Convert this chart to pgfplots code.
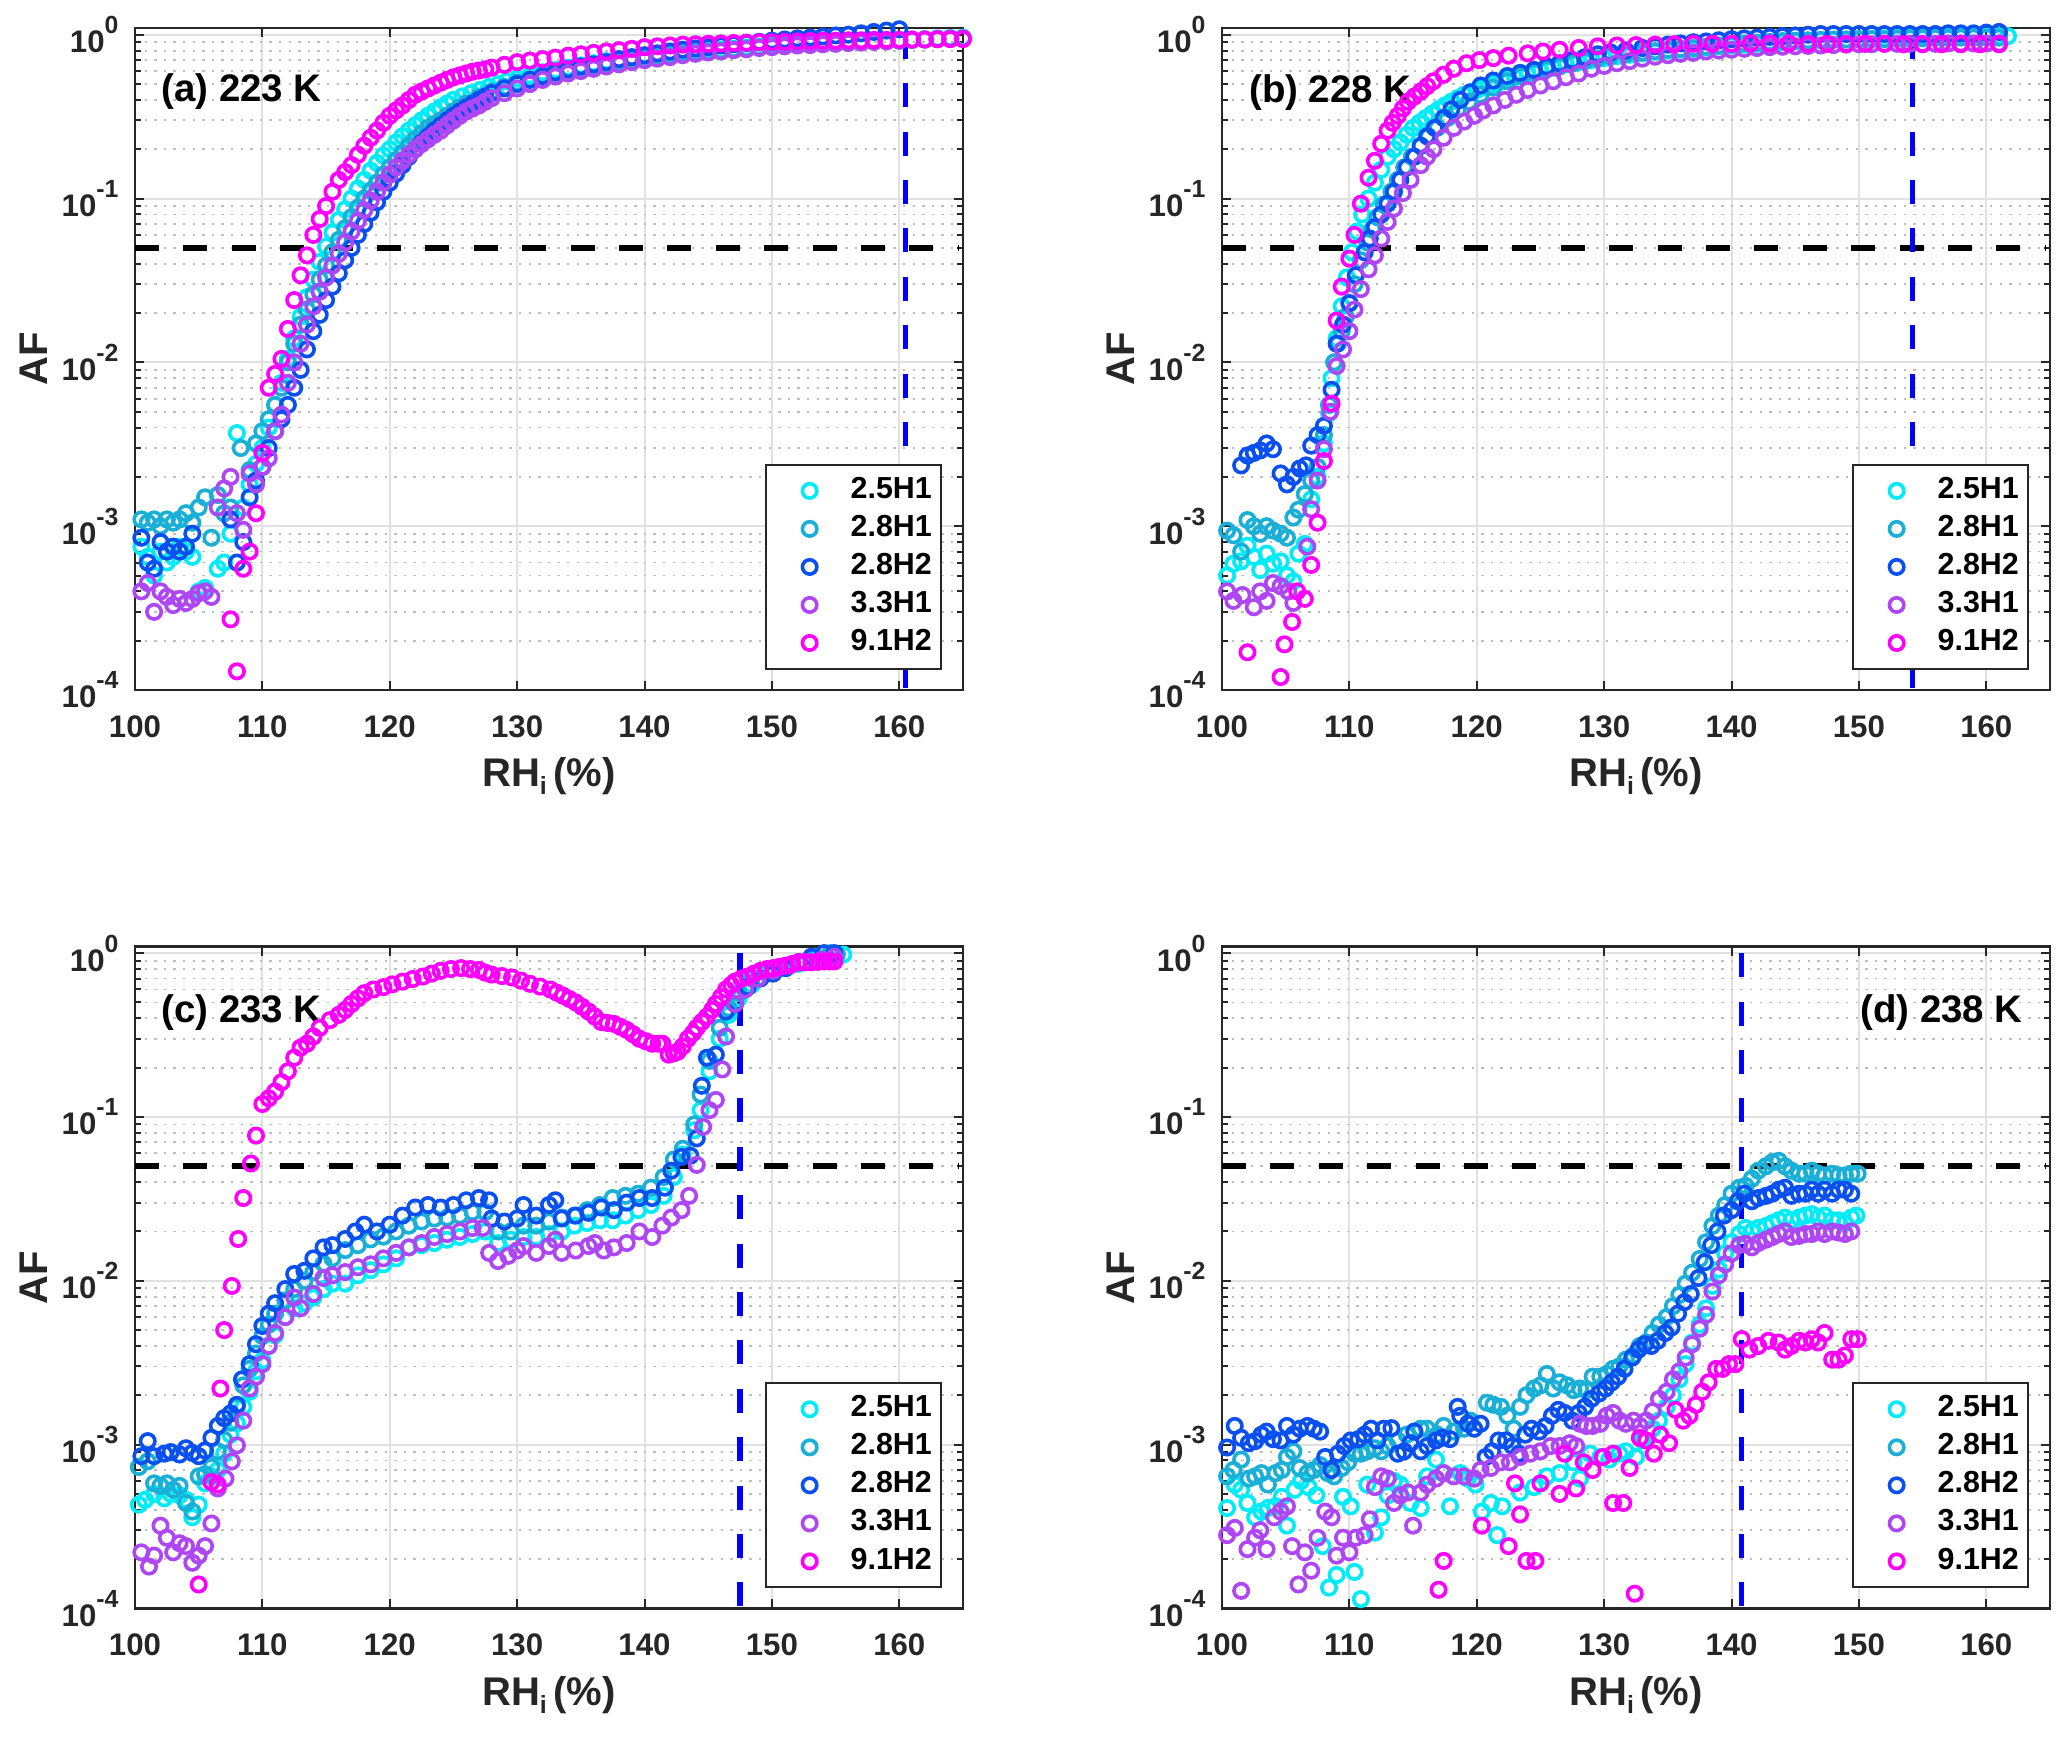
\documentclass[border=0pt]{standalone}
\usepackage{fontspec}
\setmainfont{Liberation Sans}
\usepackage{pgfplots}
\pgfplotsset{compat=1.18}
\definecolor{axgray}{RGB}{38,38,38}
\definecolor{gridgray}{RGB}{225,225,225}
\definecolor{mgridgray}{RGB}{190,190,190}
\definecolor{c1}{RGB}{0,236,248}
\definecolor{c2}{RGB}{25,175,215}
\definecolor{c3}{RGB}{10,80,240}
\definecolor{c4}{RGB}{175,70,245}
\definecolor{c5}{RGB}{255,0,255}
\definecolor{vblue}{RGB}{0,0,255}
\newcommand{\tp}[1]{10\raisebox{4.7pt}{\fontsize{6.2}{6.2}\selectfont #1}}
\pgfplotsset{
  panel/.style={
    scale only axis, width=207pt, height=165.5pt,
    xmin=100, xmax=165, ymin=1e-4, ymax=1.1,
    xtick={100,110,120,130,140,150,160},
    xticklabels={100,110,120,130,140,150,160},
    minor xtick={},
    ytick={1e-4,1e-3,1e-2,1e-1,1},
    yticklabels={\tp{-4},\tp{-3},\tp{-2},\tp{-1},\tp{0}},
    minor ytick={2e-4,3e-4,4e-4,5e-4,6e-4,7e-4,8e-4,9e-4,2e-3,3e-3,4e-3,5e-3,6e-3,7e-3,8e-3,9e-3,2e-2,3e-2,4e-2,5e-2,6e-2,7e-2,8e-2,9e-2,0.2,0.3,0.4,0.5,0.6,0.7,0.8,0.9},
    tick align=inside, tick pos=both,
    major tick length=2.3pt, minor tick length=1.4pt,
    every tick/.style={axgray, line width=0.5pt},
    axis line style={axgray, line width=0.6pt},
    xmajorgrids, ymajorgrids, yminorgrids,
    major grid style={color=gridgray, line width=0.5pt},
    minor grid style={color=mgridgray, dash pattern=on 0.6pt off 1.8pt, line width=0.45pt},
    tick label style={font=\fontsize{7.8}{9}\selectfont\bfseries, color=axgray},
    xticklabel shift=2.8pt, yticklabel shift=0.6pt,
    xlabel={RH\raisebox{-2pt}{\fontsize{6.2}{6.2}\selectfont i}\,(\%)}, ylabel={AF},
    label style={font=\fontsize{10}{11}\selectfont\bfseries, color=axgray},
    xlabel style={at={(axis description cs:0.5,-0.1465)}, anchor=base},
    ylabel style={at={(axis description cs:-0.122,0.5)}, anchor=center},
    legend style={font=\fontsize{7.6}{9}\selectfont\bfseries, text=black, draw=axgray, line width=0.5pt, fill=white, at={(1,0)}, anchor=south east, xshift=-5.25pt, yshift=5pt, inner xsep=0.3pt, inner ysep=1.2pt, row sep=-1.1pt, cells={anchor=west}, nodes={inner ysep=1.9pt}},
  },
  ser/.style={only marks, mark=o, mark size=1.8pt, line width=0.9pt, color=#1,
    legend image code/.code={\path[draw=none,fill=none] (0pt,0pt) -- (18.75pt,0pt); \draw[mark repeat=2,mark phase=2,##1] plot coordinates {(0pt,0pt)(10.5pt,0pt)(18.75pt,0pt)};}},
  hline/.style={forget plot, black, line width=1.5pt, dash pattern=on 6pt off 6.1pt},
  vline/.style={forget plot, vblue, line width=1.3pt, dash pattern=on 6pt off 6.1pt},
}
\tikzset{plab/.style={font=\fontsize{9.6}{11}\selectfont\bfseries, text=black, inner sep=0pt}}
\begin{document}
\begin{tikzpicture}
\path[use as bounding box] (0pt,0pt) rectangle (516.75pt,-435.25pt);
% ================= (a) 223 K =================
\begin{semilogyaxis}[panel, at={(33.75pt,-172.5pt)}, anchor=south west]
\addplot[ser=c1] table {
x y
100.5 7.5e-4
101 6.5e-4
101.5 5e-4
102 7e-4
102.5 6e-4
103 6.5e-4
103.5 7.5e-4
104 7e-4
104.5 6.5e-4
105 4e-4
105.5 4.2e-4
106.5 5.5e-4
107 6e-4
107.5 9e-4
108 3.7e-3
108.5 1.3e-3
109 1.8e-3
109.5 2.4e-3
110 3e-3
110.5 4e-3
111 5.5e-3
111.5 7.5e-3
112 1.05e-2
112.5 1.4e-2
113 1.9e-2
113.5 2.5e-2
114 3.2e-2
114.5 4.1e-2
115 5.1e-2
115.5 6.2e-2
116 7.4e-2
116.5 8.6e-2
117 0.1
117.5 0.115
118 0.13
118.5 0.148
119 0.165
119.5 0.183
120 0.2
120.5 0.22
121 0.24
121.5 0.26
122 0.28
122.5 0.3
123 0.32
123.5 0.34
124 0.36
124.5 0.38
125 0.4
125.7 0.42
126.4 0.44
127.1 0.46
127.8 0.48
128.5 0.5
129.2 0.52
130 0.54
131 0.565
132 0.59
133 0.61
134 0.63
135 0.65
136 0.67
137 0.69
138 0.7
139 0.72
140 0.73
141 0.745
142 0.76
143 0.775
144 0.79
145 0.8
146 0.81
147 0.82
148 0.835
149 0.845
150 0.86
151 0.865
152 0.87
153 0.88
154 0.89
155 0.9
156 0.905
157 0.91
158 0.915
159 0.925
160 0.93
161 0.935
162 0.94
163 0.95
164 0.955
165 0.96
};
\addplot[ser=c2] table {
x y
100.5 1.1e-3
101 1.05e-3
101.5 1.1e-3
102 1e-3
102.5 1.1e-3
103 1.05e-3
103.5 1.1e-3
104 1.2e-3
104.5 1.05e-3
105 1.3e-3
105.5 1.5e-3
106 8.5e-4
106.5 1.55e-3
107 1.2e-3
107.5 1.3e-3
108.3 3e-3
109 2.2e-3
109.5 3.2e-3
110 3.8e-3
110.5 4.5e-3
111 5.5e-3
111.5 7e-3
112 1e-2
112.5 1.3e-2
113 1.7e-2
113.5 2.1e-2
114 2.6e-2
114.5 3.2e-2
115 3.9e-2
115.5 4.7e-2
116 5.6e-2
116.5 6.6e-2
117 7.7e-2
117.5 8.8e-2
118 0.1
118.5 0.112
119 0.125
119.5 0.14
120 0.155
120.5 0.172
121 0.19
121.5 0.21
122 0.23
122.5 0.25
123 0.27
123.5 0.285
124 0.3
124.5 0.32
125 0.34
125.5 0.36
126 0.38
127 0.415
128 0.45
129 0.48
130 0.51
131 0.535
132 0.56
133 0.585
134 0.61
135 0.63
136 0.65
137 0.67
138 0.69
139 0.705
140 0.72
141 0.735
142 0.75
143 0.765
144 0.78
145 0.79
146 0.8
147 0.815
148 0.825
149 0.84
150 0.85
151 0.86
152 0.87
153 0.875
154 0.885
155 0.89
156 0.9
157 0.905
158 0.91
159 0.915
160 0.92
161 0.93
162 0.935
163 0.94
164 0.95
};
\addplot[ser=c3] table {
x y
100.5 8.5e-4
101 6e-4
101.5 5.5e-4
102 8e-4
102.5 7e-4
103 7.5e-4
103.5 7e-4
104 7.5e-4
104.5 9e-4
107.5 1.1e-3
108 6e-4
108.5 8e-4
109 1.5e-3
109.5 1.9e-3
110 2.3e-3
110.5 3e-3
111 3.8e-3
111.5 4.5e-3
112 5.5e-3
112.5 7e-3
113 9e-3
113.5 1.2e-2
114 1.55e-2
114.5 1.95e-2
115 2.4e-2
115.5 2.9e-2
116 3.5e-2
116.5 4.2e-2
117 5e-2
117.5 6e-2
118 7e-2
118.5 8.2e-2
119 9.5e-2
119.5 0.11
120 0.125
120.5 0.142
121 0.16
121.5 0.18
122 0.2
122.5 0.22
123 0.24
123.5 0.26
124 0.28
124.5 0.3
125 0.32
125.5 0.34
126 0.36
126.5 0.38
127 0.4
127.5 0.42
128 0.44
129 0.47
130 0.5
131 0.53
132 0.56
133 0.59
134 0.615
135 0.64
136 0.66
137 0.68
138 0.71
139 0.73
140 0.75
141 0.77
142 0.79
143 0.81
144 0.825
145 0.84
146 0.86
147 0.875
148 0.89
149 0.905
150 0.92
151 0.935
152 0.95
153 0.96
154 0.975
155 0.99
156 1.0
157 1.02
158 1.04
159 1.06
160 1.08
};
\addplot[ser=c4] table {
x y
100.5 4e-4
101 4.5e-4
101.5 3e-4
102 4e-4
102.5 3.7e-4
103 3.3e-4
103.5 3.6e-4
104 3.4e-4
104.5 3.6e-4
105 3.9e-4
105.5 4e-4
106 3.7e-4
106.5 1.3e-3
107 1.7e-3
107.5 2e-3
108 1.2e-3
108.5 9.5e-4
109 2.1e-3
109.5 1.8e-3
110 2.3e-3
110.5 2.6e-3
111 3.8e-3
111.5 4.8e-3
112 7.5e-3
112.5 1e-2
113 1.3e-2
113.5 1.7e-2
114 2.2e-2
114.5 2.7e-2
115 3.3e-2
115.5 3.9e-2
116 4.6e-2
116.5 5.4e-2
117 6.3e-2
117.5 7.3e-2
118 8.5e-2
118.5 9.7e-2
119 0.11
119.5 0.125
120 0.14
120.5 0.155
121 0.17
121.5 0.185
122 0.2
122.5 0.215
123 0.23
123.5 0.245
124 0.26
124.5 0.28
125 0.3
125.5 0.32
126 0.34
126.5 0.355
127 0.37
127.5 0.39
128 0.41
129 0.44
130 0.47
131 0.5
132 0.53
133 0.555
134 0.58
135 0.6
136 0.62
137 0.64
138 0.66
139 0.68
140 0.7
141 0.715
142 0.73
143 0.75
144 0.765
145 0.78
146 0.79
147 0.805
148 0.815
149 0.83
150 0.84
151 0.85
152 0.86
153 0.865
154 0.875
155 0.88
156 0.89
157 0.895
158 0.905
159 0.91
160 0.92
161 0.93
162 0.935
163 0.94
164 0.945
165 0.95
};
\addplot[ser=c5] table {
x y
107.5 2.7e-4
108 1.3e-4
108.5 5.5e-4
109 7e-4
109.5 1.2e-3
110 2.8e-3
110.5 7e-3
111 8.5e-3
111.5 1.05e-2
112 1.6e-2
112.5 2.4e-2
113 3.4e-2
113.5 4.5e-2
114 6e-2
114.5 7.5e-2
115 9e-2
115.5 0.11
116 0.13
116.5 0.145
117 0.16
117.5 0.185
118 0.21
118.5 0.235
119 0.26
119.5 0.29
120 0.32
120.5 0.345
121 0.37
121.5 0.4
122 0.43
122.5 0.45
123 0.47
123.5 0.49
124 0.51
124.5 0.53
125 0.55
125.5 0.565
126 0.58
126.5 0.595
127 0.605
127.5 0.615
128 0.63
129 0.655
130 0.68
131 0.695
132 0.71
133 0.725
134 0.745
135 0.76
136 0.775
137 0.79
138 0.805
139 0.82
140 0.84
141 0.85
142 0.86
143 0.87
144 0.875
145 0.88
146 0.885
147 0.89
148 0.895
149 0.9
150 0.9
151 0.905
152 0.91
153 0.915
154 0.92
155 0.92
156 0.925
157 0.925
158 0.93
159 0.93
160 0.93
161 0.935
162 0.935
163 0.94
164 0.94
165 0.94
};
\addplot[hline] coordinates {(100,0.05) (164.6,0.05)};
\addplot[vline] coordinates {(160.5,1) (160.5,1e-4)};
\legend{2.5H1,2.8H1,2.8H2,3.3H1,9.1H2}
\node[plab, anchor=base west] at (axis description cs:0.031,0.889) {(a) 223 K};
\end{semilogyaxis}
% ================= (b) 228 K =================
\begin{semilogyaxis}[panel, at={(305.5pt,-172.5pt)}, anchor=south west]
\addplot[ser=c1] table {
x y
100.4 5e-4
100.9 5.9e-4
101.5 6.1e-4
102 7.6e-4
102.5 6.5e-4
103 5.4e-4
103.5 6.8e-4
104 5.9e-4
104.6 6.1e-4
105.1 5e-4
105.6 4.6e-4
106 6.8e-4
106.5 7.8e-4
107 1.46e-3
107.5 2e-3
108 3.2e-3
108.4 4.9e-3
108.6 8e-3
109 1.4e-2
109.4 2.2e-2
109.8 3.3e-2
110.2 4.7e-2
110.6 6.3e-2
111 8e-2
111.5 0.1
112 0.125
112.5 0.15
113 0.18
113.5 0.2
114 0.22
114.5 0.245
115 0.27
115.5 0.29
116 0.31
116.5 0.33
117 0.35
117.5 0.37
118 0.39
118.5 0.41
119 0.43
119.5 0.445
120 0.46
120.5 0.475
121 0.49
121.5 0.505
122 0.52
122.5 0.535
123 0.55
123.5 0.56
124 0.575
125 0.6
126 0.63
127 0.66
128 0.68
129 0.7
130 0.72
131 0.74
132 0.755
133 0.77
134 0.785
135 0.8
136 0.81
137 0.82
138 0.835
139 0.85
140 0.86
141 0.87
142 0.88
143 0.89
144 0.9
145 0.91
146 0.915
147 0.925
148 0.93
149 0.935
150 0.94
151 0.945
152 0.95
153 0.955
154 0.96
155 0.96
156 0.965
157 0.97
158 0.97
159 0.975
160 0.975
161 0.98
161.7 0.98
};
\addplot[ser=c2] table {
x y
100.4 9.4e-4
100.9 8.8e-4
101.5 7e-4
102 1.09e-3
102.5 1e-3
103 9e-4
103.5 1e-3
104 9.4e-4
104.6 9e-4
105.1 8.5e-4
105.6 1.13e-3
106 1.26e-3
106.5 1.57e-3
107 1.9e-3
107.5 2.3e-3
108 3.6e-3
108.4 5.5e-3
108.8 1e-2
109.1 1.3e-2
109.4 1.55e-2
109.7 1.9e-2
110 2.3e-2
110.4 3e-2
110.9 4.2e-2
111.4 5.4e-2
111.8 6.5e-2
112.2 7.7e-2
112.7 9.2e-2
113.3 0.11
113.8 0.13
114.3 0.155
114.9 0.18
115.6 0.21
116.2 0.24
116.9 0.27
117.7 0.31
118.5 0.35
119.4 0.39
120.3 0.43
121.3 0.475
122.4 0.52
123.5 0.56
124.5 0.59
125.5 0.615
126.5 0.64
127.6 0.67
128.5 0.69
129.5 0.715
130.5 0.74
131.7 0.76
133 0.78
134 0.795
135 0.81
136 0.82
137 0.83
138 0.845
139 0.86
140 0.87
141 0.885
142 0.895
143 0.905
144 0.915
145 0.92
146 0.925
147 0.93
148 0.935
149 0.935
150 0.94
151 0.94
152 0.94
153 0.945
154 0.95
155 0.95
156 0.955
157 0.955
158 0.96
159 0.96
160 0.96
161 0.96
};
\addplot[ser=c3] table {
x y
101.5 2.35e-3
102 2.7e-3
102.5 2.8e-3
103 2.9e-3
103.5 3.2e-3
104 2.95e-3
104.6 2.1e-3
105.1 1.8e-3
105.6 2e-3
106.1 2.25e-3
106.6 2.35e-3
107 3.1e-3
107.5 3.6e-3
108 4.1e-3
108.6 6.8e-3
109 1.3e-2
109.5 1.7e-2
110 2.3e-2
110.5 3.4e-2
111.2 4.7e-2
111.6 5.7e-2
112 6.7e-2
112.5 8e-2
113 9.3e-2
113.5 0.11
114 0.13
114.5 0.155
115.1 0.18
115.6 0.21
116.1 0.24
116.7 0.27
117.4 0.31
118 0.35
118.7 0.4
119.5 0.445
120.3 0.49
121.3 0.525
122.4 0.56
123.4 0.585
124.5 0.61
125.5 0.64
126.5 0.67
127.5 0.7
128.5 0.73
129.5 0.76
130.5 0.78
131.7 0.8
133 0.83
134 0.85
135 0.87
136 0.885
137 0.9
138 0.91
139 0.925
140 0.94
141 0.95
142 0.96
143 0.97
144 0.98
145 0.99
146 1.0
147 1.01
148 1.01
149 1.01
150 1.01
151 1.01
152 1.01
153 1.01
154 1.01
155 1.01
156 1.01
157 1.02
158 1.02
159 1.02
160 1.03
161 1.04
};
\addplot[ser=c4] table {
x y
100.4 4e-4
100.9 3.5e-4
101.6 3.8e-4
102.5 3.2e-4
103 4e-4
103.5 3.5e-4
104 4.5e-4
104.6 4.3e-4
105.2 4e-4
105.6 3.4e-4
106.7 7.5e-4
107 1.27e-3
107.5 1.9e-3
108 2.95e-3
108.5 5e-3
109 9.5e-3
109.5 1.2e-2
110 1.55e-2
110.4 2.1e-2
110.9 2.8e-2
111.5 3.7e-2
112 4.5e-2
112.5 5.7e-2
113 7.2e-2
113.5 8.7e-2
114.2 0.108
114.8 0.13
115.6 0.16
116.1 0.18
116.6 0.2
117.4 0.235
118.2 0.27
119 0.295
119.8 0.32
120.5 0.345
121.3 0.37
122.2 0.4
123.1 0.43
124 0.46
125 0.49
126 0.52
127 0.55
128 0.58
129 0.62
130 0.645
131 0.67
132 0.69
133 0.715
134 0.735
135 0.75
136 0.765
137 0.775
138 0.79
139 0.8
140 0.81
141 0.82
142 0.83
143 0.84
144 0.845
145 0.85
146 0.855
147 0.86
148 0.865
149 0.87
150 0.875
151 0.875
152 0.88
153 0.88
154 0.88
155 0.88
156 0.88
157 0.885
158 0.885
159 0.885
160 0.885
161 0.885
};
\addplot[ser=c5] table {
x y
102 1.7e-4
104.6 1.2e-4
104.9 1.9e-4
105.5 2.6e-4
105.9 4e-4
106.5 3.6e-4
107 5.8e-4
107.5 1.05e-3
108 2.5e-3
108.6 5.6e-3
109 1.8e-2
109.4 2.9e-2
110 4.3e-2
110.4 6e-2
110.9 9.3e-2
111.5 0.134
112 0.17
112.5 0.216
113 0.26
113.4 0.29
113.8 0.32
114.2 0.355
114.6 0.39
115.1 0.42
115.6 0.45
116.1 0.485
116.6 0.52
117.4 0.57
118.2 0.62
119.2 0.67
120.2 0.7
121.3 0.72
122.5 0.745
124 0.77
125.2 0.79
126.5 0.81
128 0.83
129.5 0.85
131 0.86
132.5 0.865
134 0.87
135.5 0.875
137 0.88
138.5 0.88
140 0.88
141.5 0.885
143 0.885
144.5 0.885
146 0.88
147.5 0.88
149 0.88
150.5 0.88
152 0.88
153.5 0.875
155 0.875
156.5 0.875
158 0.875
159.5 0.875
161 0.875
};
\addplot[hline] coordinates {(100,0.05) (164.6,0.05)};
\addplot[vline] coordinates {(154.2,1) (154.2,1e-4)};
\legend{2.5H1,2.8H1,2.8H2,3.3H1,9.1H2}
\node[plab, anchor=base west] at (axis description cs:0.032,0.888) {(b) 228 K};
\end{semilogyaxis}
% ================= (c) 233 K =================
\begin{semilogyaxis}[panel, at={(33.75pt,-402.1pt)}, anchor=south west]
\addplot[ser=c1] table {
x y
100.3 4.3e-4
100.8 4.6e-4
101.5 5e-4
102.3 4.7e-4
102.8 5e-4
103.5 4.9e-4
104 4.6e-4
104.5 3.6e-4
105 4.3e-4
105.5 5.8e-4
106 6.4e-4
106.5 7e-4
107 8.8e-4
107.5 1.15e-3
108 1.35e-3
108.5 1.7e-3
109 2.1e-3
109.5 2.8e-3
110 3.25e-3
110.5 4e-3
111 4.65e-3
111.8 6e-3
112.5 6.8e-3
113.3 7.3e-3
114 7.9e-3
114.8 8.9e-3
115.5 9.6e-3
116.5 9.6e-3
117.5 1.08e-2
118.5 1.16e-2
119.5 1.26e-2
120.5 1.37e-2
121.5 1.6e-2
122.5 1.65e-2
123.5 1.7e-2
124.5 1.78e-2
125.5 1.85e-2
126.5 1.93e-2
127.5 2e-2
128.5 1.7e-2
129.5 1.78e-2
130.5 1.85e-2
131.5 1.85e-2
132.5 1.93e-2
133.5 2e-2
134.5 2.17e-2
135.5 2.25e-2
136.5 2.34e-2
137.5 2.34e-2
138.5 2.5e-2
139.5 2.7e-2
140.5 2.9e-2
141.5 3.3e-2
142.3 4.3e-2
143 5.9e-2
143.9 8.3e-2
144.4 0.11
145.1 0.19
145.9 0.3
146.6 0.42
147.4 0.53
148.4 0.64
149.6 0.75
150.9 0.81
152.1 0.86
153.4 0.91
154.6 0.98
155.6 0.98
};
\addplot[ser=c2] table {
x y
100.3 7.3e-4
101 7.9e-4
101.5 5.8e-4
102 5.6e-4
102.5 5.8e-4
103 5.3e-4
103.5 5.6e-4
104 4.4e-4
104.5 3.9e-4
105 6.4e-4
105.5 6.6e-4
106 7.3e-4
106.5 9.1e-4
107 1.07e-3
107.5 1.36e-3
108 1.7e-3
108.5 2.3e-3
109 2.9e-3
109.5 3.6e-3
110 4.6e-3
110.5 5.4e-3
111 6.3e-3
111.8 7.6e-3
112.5 8.9e-3
113.3 1e-2
114 1.13e-2
114.8 1.27e-2
115.5 1.37e-2
116.5 1.54e-2
117.5 1.65e-2
118.5 1.79e-2
119.5 1.86e-2
120.5 2e-2
121.5 2.17e-2
122.5 2.3e-2
123.5 2.4e-2
124.5 2.43e-2
125.5 2.5e-2
126.5 2.63e-2
127.5 2.63e-2
128.5 2e-2
129.5 2e-2
130.5 2.17e-2
131.5 2.17e-2
132.5 2.3e-2
133.5 2.43e-2
134.5 2.5e-2
135.5 2.7e-2
136.5 2.9e-2
137.5 3.2e-2
138.5 3.3e-2
139.5 3.4e-2
140.5 3.7e-2
141.5 4.3e-2
142.3 5.5e-2
143 6.4e-2
143.9 9e-2
144.4 0.137
145.1 0.22
145.9 0.35
146.6 0.46
147.4 0.57
148.4 0.7
149.6 0.78
150.9 0.82
152.1 0.88
153.4 0.95
154.6 1.0
155.1 0.98
};
\addplot[ser=c3] table {
x y
100.5 8.5e-4
101 1.05e-3
101.5 8.5e-4
102.3 8.8e-4
102.8 9e-4
103.5 8.7e-4
104 9.5e-4
104.5 8.9e-4
105 8.5e-4
105.5 9.2e-4
106 1.1e-3
106.5 1.3e-3
107 1.45e-3
107.5 1.55e-3
108 1.75e-3
108.4 2.5e-3
109 3.1e-3
109.5 4.1e-3
110 5.3e-3
110.5 6.3e-3
111 7.3e-3
111.8 8.9e-3
112.5 1.1e-2
113.3 1.15e-2
114 1.37e-2
114.8 1.6e-2
115.5 1.65e-2
116.5 1.8e-2
117.3 2e-2
118 2.2e-2
119 2e-2
120 2.2e-2
121 2.5e-2
122 2.8e-2
123 2.9e-2
124 2.8e-2
125 2.9e-2
126 3.1e-2
127 3.2e-2
127.8 3.1e-2
128 2.4e-2
129 2.3e-2
130 2.4e-2
130.5 2.9e-2
131.5 2.5e-2
132.5 2.9e-2
133 3.1e-2
133.5 2.4e-2
134.6 2.5e-2
135.6 2.6e-2
136.6 2.8e-2
137.6 2.7e-2
138.6 3e-2
139.6 3.2e-2
140.6 3.2e-2
141.6 3.7e-2
142.1 4.7e-2
142.9 5.7e-2
143.6 5.8e-2
144.1 7.4e-2
144.5 0.155
144.9 0.23
145.6 0.24
146.4 0.44
147.1 0.49
148.1 0.62
149.1 0.7
150.1 0.75
151.1 0.81
152.1 0.88
153.1 0.95
154.1 1.0
154.9 1.0
};
\addplot[ser=c4] table {
x y
100.5 2.2e-4
101.1 1.8e-4
101.5 2.1e-4
102 3.2e-4
102.5 2.7e-4
103 2.2e-4
103.5 2.5e-4
104 2.4e-4
104.5 1.9e-4
105 2.1e-4
105.5 2.4e-4
106 3.3e-4
106.5 5.4e-4
107.1 6.2e-4
107.6 7.9e-4
108 9.9e-4
108.5 1.4e-3
109 2.2e-3
109.5 2.6e-3
110 3.1e-3
110.5 4e-3
111 4.8e-3
111.8 6e-3
112.5 7.9e-3
113 6.8e-3
114 8.3e-3
114.8 1.04e-2
115.5 1.08e-2
116.5 1.13e-2
117.5 1.21e-2
118.5 1.26e-2
119.5 1.37e-2
120.5 1.48e-2
121.5 1.6e-2
122.5 1.7e-2
123.5 1.85e-2
124.5 1.93e-2
125.5 2e-2
126.5 2.1e-2
127.3 2.1e-2
127.8 1.48e-2
128.5 1.32e-2
129.3 1.42e-2
130 1.53e-2
130.5 1.63e-2
131.5 1.48e-2
132.5 1.63e-2
133 1.78e-2
133.5 1.48e-2
134.6 1.53e-2
135.6 1.63e-2
136.1 1.7e-2
136.8 1.53e-2
137.6 1.6e-2
138.6 1.7e-2
139.6 2e-2
140.6 1.85e-2
141.4 2.17e-2
142.1 2.43e-2
142.9 2.7e-2
143.5 3.3e-2
144.1 5.1e-2
144.6 8.7e-2
145.1 0.11
145.6 0.127
146.1 0.195
146.4 0.31
147.1 0.49
147.9 0.6
148.9 0.7
150.1 0.78
151.4 0.84
152.6 0.88
153.9 0.91
154.9 0.95
};
\addplot[ser=c5] table {
x y
105 1.4e-4
106 5.9e-4
106.5 5.7e-4
106.7 2.2e-3
107 5e-3
107.6 9.3e-3
108.1 1.8e-2
108.5 3.2e-2
109.1 5.2e-2
109.5 7.7e-2
110 0.12
110.5 0.13
111 0.143
111.5 0.163
112 0.19
112.5 0.23
113 0.265
113.5 0.28
114 0.31
114.5 0.35
115.3 0.39
116 0.42
116.5 0.45
117 0.49
117.5 0.53
118 0.57
118.7 0.6
119.5 0.62
120.2 0.645
121 0.67
121.8 0.695
122.6 0.72
123.3 0.75
124 0.78
124.8 0.8
125.6 0.81
126.3 0.8
127 0.79
127.5 0.76
128 0.74
128.8 0.725
129.6 0.71
130.3 0.68
131 0.65
131.8 0.625
132.6 0.6
133.1 0.575
133.6 0.55
134.1 0.525
134.6 0.5
135.1 0.47
135.6 0.44
136.1 0.41
136.6 0.38
137.1 0.375
137.6 0.37
138.1 0.355
138.6 0.34
139.1 0.32
139.6 0.3
140.1 0.29
140.6 0.28
141.1 0.28
141.4 0.28
141.9 0.24
142.3 0.245
142.6 0.25
143 0.27
143.4 0.3
143.8 0.325
144.1 0.35
144.5 0.38
144.9 0.41
145.3 0.45
145.6 0.49
146 0.54
146.4 0.6
146.8 0.64
147.1 0.67
147.6 0.7
148.1 0.72
148.6 0.75
149.1 0.78
149.6 0.8
150.1 0.81
150.6 0.825
151.1 0.84
151.6 0.86
152.1 0.88
152.6 0.88
153.1 0.88
153.6 0.885
154.1 0.89
154.5 0.89
154.9 0.89
};
\addplot[hline] coordinates {(100,0.05) (164.6,0.05)};
\addplot[vline] coordinates {(147.5,1) (147.5,1e-4)};
\legend{2.5H1,2.8H1,2.8H2,3.3H1,9.1H2}
\node[plab, anchor=base west] at (axis description cs:0.031,0.885) {(c) 233 K};
\end{semilogyaxis}
% ================= (d) 238 K =================
\begin{semilogyaxis}[panel, at={(305.5pt,-402.1pt)}, anchor=south west]
\addplot[ser=c1] table {
x y
100.4 4.1e-4
101 5.7e-4
101.5 5.3e-4
102 4.4e-4
102.6 3.6e-4
103.1 3.9e-4
103.6 4.1e-4
104.2 4.2e-4
104.7 4.8e-4
105.1 3.2e-4
105.7 5.3e-4
106.2 6e-4
106.8 5.5e-4
107.4 4.9e-4
107.9 2.4e-4
108.4 1.34e-4
109 1.6e-4
109.5 4.8e-4
110.1 4.2e-4
110.4 1.67e-4
110.9 1.14e-4
111.4 5.7e-4
112 2.9e-4
112.5 3.6e-4
113 4.9e-4
113.5 6e-4
114 5.7e-4
114.8 4.4e-4
115.6 4.1e-4
116.1 6.4e-4
116.8 8.1e-4
117.3 6.7e-4
117.9 4.2e-4
118.7 6.7e-4
119.3 6.2e-4
119.9 5.7e-4
120.4 3.9e-4
121.1 4.4e-4
121.6 2.8e-4
122 4.2e-4
123.4 5.1e-4
124.5 5.5e-4
125.5 6.4e-4
126.5 6.7e-4
127.6 7.8e-4
128.1 6.2e-4
128.9 8.8e-4
129.7 8.4e-4
130.4 8.1e-4
131.2 8.8e-4
131.7 9.1e-4
132.5 8.4e-4
133 1.06e-3
133.8 1.25e-3
134.3 1.4e-3
134.9 1.7e-3
135.4 2e-3
135.9 2.5e-3
136.4 3.1e-3
136.9 4.2e-3
137.5 5.4e-3
138 6.8e-3
138.5 9.3e-3
139 1.17e-2
139.5 1.47e-2
140 1.72e-2
140.6 1.93e-2
141.1 2.1e-2
141.6 2e-2
142.1 2.1e-2
142.7 2.16e-2
143.2 2.25e-2
143.7 2.34e-2
144.2 2.43e-2
144.7 2.34e-2
145.3 2.43e-2
145.8 2.5e-2
146.3 2.55e-2
146.8 2.43e-2
147.3 2.5e-2
147.9 2.34e-2
148.4 2.34e-2
148.9 2.25e-2
149.4 2.43e-2
149.8 2.5e-2
};
\addplot[ser=c2] table {
x y
100.4 6.4e-4
100.9 7e-4
101.5 8.1e-4
102.1 6.2e-4
102.6 6.4e-4
103.1 6.7e-4
103.6 5.7e-4
104.2 6.7e-4
104.7 7e-4
105.1 8.4e-4
105.6 9.1e-4
106.1 7.2e-4
106.7 6.7e-4
107.2 7e-4
107.7 7.5e-4
108.3 6.7e-4
108.8 6.4e-4
109.4 7.2e-4
109.9 7.8e-4
110.4 8.8e-4
110.9 8.8e-4
111.4 9.1e-4
112 9.5e-4
112.5 9.1e-4
113 9.8e-4
113.8 1.06e-3
114.5 1.15e-3
115.1 1.2e-3
115.6 1.25e-3
116.1 1.25e-3
116.9 1.15e-3
117.4 1.3e-3
118.2 1.2e-3
119 1.25e-3
119.5 1.4e-3
120.8 1.8e-3
121.3 1.75e-3
121.9 1.7e-3
122.4 1.5e-3
122.9 1.25e-3
123.4 1.7e-3
123.9 2e-3
124.5 2.2e-3
125 2.3e-3
125.5 2.7e-3
126 2.2e-3
126.5 2.4e-3
127.1 2.3e-3
127.6 2.15e-3
128.1 2.2e-3
128.6 2.15e-3
129.1 2.6e-3
129.7 2.6e-3
130.2 2.7e-3
130.7 2.9e-3
131.2 3e-3
131.7 3.3e-3
132.3 3.5e-3
132.8 4e-3
133.3 4.2e-3
133.8 4.8e-3
134.3 5.4e-3
134.9 6e-3
135.4 7e-3
135.9 8.2e-3
136.4 9.6e-3
136.9 1.12e-2
137.5 1.36e-2
138 1.72e-2
138.5 2.16e-2
139 2.5e-2
139.5 2.9e-2
140 3.4e-2
140.6 3.7e-2
141.1 3.8e-2
141.6 4.2e-2
142.1 4.7e-2
142.7 5e-2
143.2 5.3e-2
143.7 5.4e-2
144.2 5e-2
144.7 4.7e-2
145.3 4.5e-2
145.8 4.5e-2
146.3 4.7e-2
146.8 4.5e-2
147.3 4.4e-2
147.9 4.5e-2
148.4 4.4e-2
148.9 4.4e-2
149.4 4.5e-2
149.9 4.5e-2
};
\addplot[ser=c3] table {
x y
100.4 9.6e-4
101 1.3e-3
101.5 1.1e-3
102.1 1.02e-3
102.6 1.05e-3
103.1 1.15e-3
103.5 1.2e-3
104 1.08e-3
104.6 1.06e-3
105.1 1.3e-3
105.6 1.15e-3
106.1 1.25e-3
106.7 1.3e-3
107.2 1.25e-3
107.7 1.2e-3
108.1 8.4e-4
108.6 7e-4
109.1 8.8e-4
109.6 9.8e-4
110.1 1.06e-3
110.7 1.08e-3
111.2 1.15e-3
111.7 1.25e-3
112.2 1.06e-3
112.7 1.25e-3
113.3 1.26e-3
113.8 8.8e-4
114.3 9.1e-4
114.8 1.02e-3
115.1 1.2e-3
115.6 9.1e-4
116.1 9.8e-4
116.8 1.06e-3
117.3 1.1e-3
117.9 1.08e-3
118.5 1.7e-3
118.7 1.5e-3
119.3 1.34e-3
119.8 1.25e-3
120.3 1.34e-3
120.7 8.4e-4
121.2 9.1e-4
121.7 1.06e-3
122.3 1.06e-3
122.8 9.8e-4
123.3 8.8e-4
123.8 1.15e-3
124.3 1.25e-3
124.9 1.2e-3
125.4 1.3e-3
125.9 1.5e-3
126.4 1.63e-3
126.9 1.56e-3
127.5 1.4e-3
128 1.56e-3
128.5 1.7e-3
129 1.9e-3
129.6 2.05e-3
130.1 2.2e-3
130.6 2.4e-3
131.1 2.6e-3
131.6 2.9e-3
132.2 3.4e-3
132.7 3.8e-3
133.2 4.1e-3
133.7 4e-3
134.2 4.3e-3
134.8 4.8e-3
135.3 5.2e-3
135.8 6.3e-3
136.3 7.4e-3
136.8 8.3e-3
137.4 1.04e-2
137.9 1.3e-2
138.4 1.65e-2
138.9 2e-2
139.4 2.5e-2
140 2.7e-2
140.5 3.06e-2
141 3.4e-2
141.6 3.06e-2
142.1 3.2e-2
142.7 3.3e-2
143.2 3.4e-2
143.7 3.6e-2
144.2 3.7e-2
144.7 3.3e-2
145.3 3.4e-2
145.8 3.4e-2
146.3 3.6e-2
146.8 3.4e-2
147.3 3.6e-2
147.9 3.4e-2
148.4 3.6e-2
148.9 3.6e-2
149.4 3.4e-2
};
\addplot[ser=c4] table {
x y
100.4 2.8e-4
101 3.1e-4
101.5 1.28e-4
102 2.3e-4
102.6 2.7e-4
103 3e-4
103.5 2.3e-4
104.1 3.6e-4
104.6 3.9e-4
105.1 4.2e-4
105.5 2.4e-4
106 1.4e-4
106.5 2.2e-4
107 1.7e-4
107.5 2.7e-4
108.1 3.9e-4
108.6 3.6e-4
109 2.1e-4
109.5 2.7e-4
110 2.2e-4
110.5 2.7e-4
111.2 2.8e-4
111.6 3.5e-4
112 5.5e-4
112.5 6.4e-4
113 6.2e-4
113.5 4.4e-4
114 4.9e-4
114.6 5.1e-4
115 3.2e-4
115.6 5.1e-4
116.1 5.7e-4
116.8 6.2e-4
117.4 6.7e-4
118.2 6.4e-4
119 6.4e-4
119.8 6.2e-4
120.3 7e-4
121.1 7.2e-4
121.9 7.8e-4
122.6 7.8e-4
123.4 8.4e-4
124.2 8.8e-4
125 9.1e-4
125.8 9.8e-4
126.5 9.8e-4
127.3 1.02e-3
127.8 9.8e-4
128.1 1.34e-3
128.6 1.3e-3
129.1 1.3e-3
129.7 1.34e-3
130.2 1.5e-3
130.7 1.56e-3
131.2 1.4e-3
131.7 1.34e-3
132.3 1.4e-3
132.8 1.3e-3
133.3 1.4e-3
133.8 1.6e-3
134.3 1.9e-3
134.9 2.1e-3
135.4 2.5e-3
135.9 2.8e-3
136.4 3.4e-3
136.9 4.1e-3
137.5 5.1e-3
138 6.2e-3
138.5 8.6e-3
139 1.08e-2
139.5 1.26e-2
140 1.47e-2
140.6 1.65e-2
141.1 1.68e-2
141.6 1.6e-2
142.1 1.7e-2
142.7 1.78e-2
143.2 1.85e-2
143.7 1.93e-2
144.2 2e-2
144.7 1.85e-2
145.3 1.88e-2
145.8 1.93e-2
146.3 1.93e-2
146.8 2e-2
147.3 1.93e-2
147.9 2e-2
148.4 1.97e-2
148.9 1.93e-2
149.4 2e-2
};
\addplot[ser=c5] table {
x y
117 1.3e-4
117.4 1.95e-4
120.4 3.2e-4
122.5 2.4e-4
123 5.8e-4
123.4 3.75e-4
123.9 1.95e-4
124.6 1.95e-4
125 5.8e-4
126.5 5e-4
126.9 8.8e-4
127.8 5.4e-4
128.4 7.8e-4
129.1 7e-4
129.9 8.4e-4
130.7 8.8e-4
130.7 4.4e-4
131.5 4.4e-4
132 7.2e-4
132.4 1.23e-4
132.8 1.1e-3
133.3 1.06e-3
133.9 8.8e-4
134.4 1.15e-3
135.1 1.02e-3
135.6 1.63e-3
136.2 1.4e-3
136.7 1.5e-3
137.2 1.75e-3
137.7 2.1e-3
138.2 2.4e-3
138.8 2.9e-3
139.3 2.9e-3
139.8 3.1e-3
140.3 3.1e-3
140.8 4.4e-3
141.4 3.8e-3
142.1 4e-3
142.9 4.3e-3
143.7 4.2e-3
144.2 3.8e-3
144.7 4e-3
145.3 4.3e-3
145.8 4.2e-3
146.3 4.4e-3
146.8 4.2e-3
147.3 4.8e-3
147.9 3.3e-3
148.4 3.3e-3
148.9 3.5e-3
149.4 4.4e-3
149.9 4.4e-3
};
\addplot[hline] coordinates {(100,0.05) (164.6,0.05)};
\addplot[vline] coordinates {(140.8,1) (140.8,1e-4)};
\legend{2.5H1,2.8H1,2.8H2,3.3H1,9.1H2}
\node[plab, anchor=base east] at (axis description cs:0.968,0.885) {(d) 238 K};
\end{semilogyaxis}
\end{tikzpicture}
\end{document}
